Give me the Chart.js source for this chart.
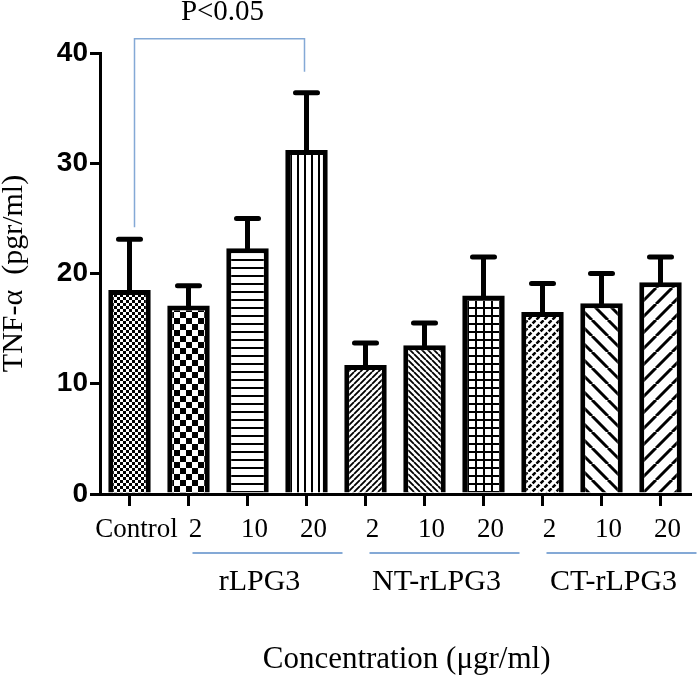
<!DOCTYPE html>
<html>
<head>
<meta charset="utf-8">
<script src="https://cdn.jsdelivr.net/npm/chart.js@4/dist/chart.umd.min.js"></script>
<style>
  body { margin: 0; background: #fff; }
</style>
</head>
<body>
<canvas id="c" width="700" height="680"></canvas>
<script>
// values (TNF-alpha, pgr/ml)
const categories = ['Control', '2', '10', '20', '2', '10', '20', '2', '10', '20'];
const means = [18.5, 17.1, 22.3, 31.2, 11.7, 13.5, 18.0, 16.5, 17.3, 19.2];
const errors = [4.6, 1.8, 2.7, 5.2, 2.0, 2.0, 3.5, 2.6, 2.7, 2.3];
const yTicks = [0, 10, 20, 30, 40];

const groupNames = ['rLPG3', 'NT-rLPG3', 'CT-rLPG3'];
const groupFirst = [1, 4, 7];
const groupLast = [3, 6, 9];

// significance bracket between Control and rLPG3 20
const sigFrom = 0, sigTo = 3;
const sigLevels = [24.2, 38.3, 41.3]; // left foot, right foot, top
const sigText = 'P<0.05';

const serif = '"Liberation Serif", "Times New Roman", serif';
const blue = '#84a9d6';

const canvas = document.getElementById('c');
const ctx = canvas.getContext('2d');

function tile(size, draw) {
  const c = document.createElement('canvas');
  c.width = c.height = size;
  const g = c.getContext('2d');
  g.fillStyle = '#fff';
  g.fillRect(0, 0, size, size);
  g.fillStyle = '#000';
  g.strokeStyle = '#000';
  draw(g, size);
  return ctx.createPattern(c, 'repeat');
}
function fwd(g, s, w) {
  g.lineWidth = w;
  g.beginPath();
  for (let k = -1; k <= 1; k++) { g.moveTo(k * s, s); g.lineTo(k * s + s, 0); }
  g.stroke();
}
function back(g, s, w) {
  g.lineWidth = w;
  g.beginPath();
  for (let k = -1; k <= 1; k++) { g.moveTo(k * s, 0); g.lineTo(k * s + s, s); }
  g.stroke();
}

const patterns = [
  tile(6, (g) => { g.fillRect(0, 0, 3, 3); g.fillRect(3, 3, 3, 3); }),
  tile(12, (g) => { g.fillRect(0, 0, 6, 6); g.fillRect(6, 6, 6, 6); }),
  tile(8, (g) => { g.fillRect(0, 3, 8, 2); }),
  tile(7, (g) => { g.fillRect(3, 0, 2, 7); }),
  tile(6, (g, s) => fwd(g, s, 1.8)),
  tile(6, (g, s) => back(g, s, 1.8)),
  tile(8, (g) => { g.fillRect(0, 3, 8, 2); g.fillRect(3, 0, 2, 8); }),
  tile(8, (g, s) => { fwd(g, s, 2.6); g.strokeStyle = '#fff'; back(g, s, 1.6); }),
  tile(16, (g, s) => back(g, s, 3)),
  tile(16, (g, s) => fwd(g, s, 3))
];

const errorBars = {
  id: 'errorBars',
  afterDatasetsDraw(chart) {
    const meta = chart.getDatasetMeta(0);
    const y = chart.scales.y;
    const c = chart.ctx;
    c.save();
    c.strokeStyle = '#000';
    c.lineWidth = 5;
    c.lineCap = 'round';
    meta.data.forEach((bar, i) => {
      const yBar = y.getPixelForValue(means[i]);
      const yTop = y.getPixelForValue(means[i] + errors[i]);
      c.beginPath();
      c.moveTo(bar.x, yBar);
      c.lineTo(bar.x, yTop);
      c.moveTo(bar.x - 11, yTop);
      c.lineTo(bar.x + 11, yTop);
      c.stroke();
    });
    c.restore();
  }
};

const annotations = {
  id: 'annotations',
  afterDraw(chart) {
    const x = chart.scales.x;
    const y = chart.scales.y;
    const c = chart.ctx;
    c.save();
    // group underlines and names
    c.strokeStyle = blue;
    c.lineWidth = 2;
    c.fillStyle = '#000';
    c.font = '30px ' + serif;
    c.textAlign = 'center';
    c.textBaseline = 'middle';
    const lineY = chart.chartArea.bottom + 59;
    groupNames.forEach((name, i) => {
      const x0 = x.getPixelForValue(groupFirst[i]) + 4;
      const x1 = x.getPixelForValue(groupLast[i]) + 36;
      c.beginPath();
      c.moveTo(x0, lineY);
      c.lineTo(x1, lineY);
      c.stroke();
      const mid = x.getPixelForValue((groupFirst[i] + groupLast[i]) / 2) + 12;
      c.fillText(name, mid, lineY + 29);
    });
    // significance bracket
    const xl = x.getPixelForValue(sigFrom) + 5;
    const xr = x.getPixelForValue(sigTo) - 2;
    const yTopLine = y.getPixelForValue(sigLevels[2]);
    c.lineWidth = 1.5;
    c.beginPath();
    c.moveTo(xl, y.getPixelForValue(sigLevels[0]));
    c.lineTo(xl, yTopLine);
    c.lineTo(xr, yTopLine);
    c.lineTo(xr, y.getPixelForValue(sigLevels[1]));
    c.stroke();
    c.font = '29px ' + serif;
    c.fillText(sigText, (xl + xr) / 2 + 3, yTopLine - 26);
    c.restore();
  }
};

new Chart(canvas, {
  type: 'bar',
  data: {
    labels: categories,
    datasets: [{
      data: means,
      backgroundColor: patterns,
      borderColor: '#000',
      borderWidth: 5,
      categoryPercentage: 1,
      barPercentage: 0.72
    }]
  },
  options: {
    responsive: false,
    animation: false,
    devicePixelRatio: 1,
    layout: { padding: { top: 53, right: 10, left: 0, bottom: 0 } },
    plugins: {
      legend: { display: false },
      tooltip: { enabled: false }
    },
    scales: {
      x: {
        afterFit(scale) { scale.height = 186; },
        grid: {
          display: true, drawOnChartArea: false, drawTicks: true,
          tickLength: 12, lineWidth: 3, color: '#000', offset: false
        },
        border: { display: true, width: 3, color: '#000' },
        ticks: {
          color: '#000', padding: 8, labelOffset: 7, maxRotation: 0, autoSkip: false,
          font: { family: serif, size: 27 }
        },
        title: {
          display: true, text: '   Concentration (μgr/ml)', color: '#000',
          font: { family: serif, size: 31 }, padding: { top: 0, bottom: 2 }
        }
      },
      y: {
        min: 0, max: 40,
        afterFit(scale) { scale.width = 100; },
        afterBuildTicks(scale) { scale.ticks = yTicks.map(v => ({ value: v })); },
        grid: {
          display: true, drawOnChartArea: false, drawTicks: true,
          tickLength: 10, lineWidth: 3, color: '#000'
        },
        border: { display: true, width: 3, color: '#000' },
        ticks: {
          color: '#000', padding: 2,
          font: { family: '"Liberation Sans", Arial, sans-serif', size: 28, weight: 'bold' }
        },
        title: {
          display: true, text: 'TNF-α  (pgr/ml)', color: '#000',
          font: { family: serif, size: 30, lineHeight: 1 }, padding: { top: -1, bottom: 0 }
        }
      }
    }
  },
  plugins: [errorBars, annotations]
});
</script>
</body>
</html>
